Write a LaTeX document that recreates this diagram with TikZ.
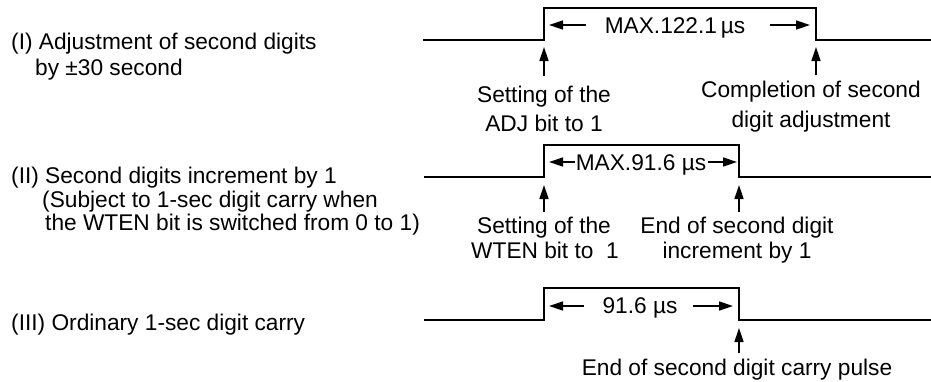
\documentclass[tikz,border=0pt]{standalone}
\usepackage{fontspec}
\setmainfont{Liberation Sans}
\usetikzlibrary{arrows.meta,calc}
\begin{document}
\begin{tikzpicture}[x=1pt,y=-1pt,
  wave/.style={line width=2pt, line join=miter},
  arr/.style={line width=1.5pt, -{Triangle[length=14pt,width=9pt]}},
  lbl/.style={inner sep=0pt, font=\fontsize{22.7}{26}\selectfont, anchor=base},
  lft/.style={lbl, anchor=base west}]
\useasboundingbox (0,0) rectangle (931,381);
\fill[white] (0,0) rectangle (931,381);

% ---------- left descriptions
\node[lft] (d1a) at (11,49)  {(I) Adjustment of second digits};
\node[lft] (d1b) at (35,75)  {by ±30 second};
\node[lft] (d2a) at (11,183) {(II) Second digits increment by 1};
\node[lft] (d2b) at (42,207) {(Subject to 1-sec digit carry when};
\node[lft] (d2c) at (45,230) {the WTEN bit is switched from 0 to 1)};
\node[lft] (d3a) at (11,330) {(III) Ordinary 1-sec digit carry};

% ---------- waveform I
\coordinate (w1s) at (423,40);
\coordinate (r1) at (544,40);
\coordinate (f1) at (816,40);
\coordinate (w1e) at (931,40);
\draw[wave] (w1s) -- (r1) -- ++(0,-32) -| (f1) -- (w1e);

\node[lbl] (t1) at (675,33) {MAX.122.1\,µs};
\coordinate (t1l) at (549,25);
\coordinate (t1r) at (810,25);
\draw[arr, shorten <=19pt] (t1.west |- t1l) -- (t1l);
\draw[arr, shorten <=25pt] (t1.east |- t1r) -- (t1r);

\node[lbl] (s1a) at (544,102) {Setting of the};
\node[lbl] (s1b) at (544,131) {ADJ bit to 1};
\node[lbl] (c1a) at (811,97)  {Completion of second};
\node[lbl] (c1b) at (811,127) {digit adjustment};
\coordinate (u1l) at (544,47);
\coordinate (u1r) at (816,47);
\draw[arr, shorten <=9pt] (s1a.north -| u1l) -- (u1l);
\draw[arr, shorten <=5pt] (c1a.north -| u1r) -- (u1r);

% ---------- waveform II
\coordinate (w2s) at (424,177);
\coordinate (r2) at (544,177);
\coordinate (f2) at (739,177);
\coordinate (w2e) at (931,177);
\draw[wave] (w2s) -- (r2) -- ++(0,-32) -| (f2) -- (w2e);

\node[lbl] (t2) at (641,170) {MAX.91.6 µs};
\coordinate (t2l) at (549,162);
\coordinate (t2r) at (737,162);
\draw[arr, shorten <=1pt] (t2.west |- t2l) -- (t2l);
\draw[arr, shorten <=2pt] (t2.east |- t2r) -- (t2r);

\node[lbl] (s2a) at (544,233) {Setting of the};
\node[lbl] (s2b) at (545,258) {WTEN bit to\ \ 1};
\node[lbl] (e2a) at (737,233) {End of second digit};
\node[lbl] (e2b) at (737,258) {increment by 1};
\coordinate (u2l) at (544,185);
\coordinate (u2r) at (739,185);
\draw[arr, shorten <=4pt] (s2a.north -| u2l) -- (u2l);
\draw[arr, shorten <=4pt] (e2a.north -| u2r) -- (u2r);

% ---------- waveform III
\coordinate (w3s) at (424,320);
\coordinate (r3) at (544,320);
\coordinate (f3) at (739,320);
\coordinate (w3e) at (931,320);
\draw[wave] (w3s) -- (r3) -- ++(0,-32) -| (f3) -- (w3e);

\node[lbl] (t3) at (640,313) {91.6 µs};
\coordinate (t3l) at (549,306);
\coordinate (t3r) at (733,306);
\draw[arr, shorten <=18pt] (t3.west |- t3l) -- (t3l);
\draw[arr, shorten <=15pt] (t3.east |- t3r) -- (t3r);

\node[lbl] (e3a) at (737,375) {End of second digit carry pulse};
\coordinate (u3r) at (739,328);
\draw[arr, shorten <=5pt] (e3a.north -| u3r) -- (u3r);
\end{tikzpicture}
\end{document}
